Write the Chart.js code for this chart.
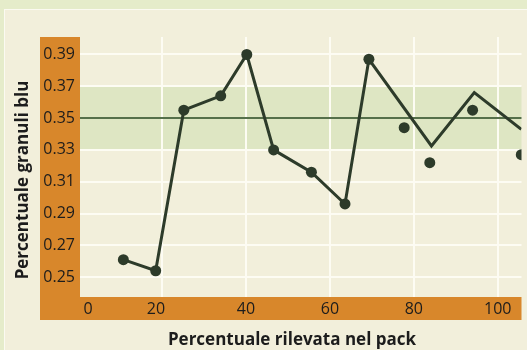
<!DOCTYPE html>
<html>
<head>
<meta charset="utf-8">
<script src="https://cdn.jsdelivr.net/npm/chart.js@4"></script>
<style>
  html, body { margin: 0; padding: 0; background: #e5ecca; }
  canvas { display: block; }
</style>
</head>
<body>
<canvas id="chart" width="527" height="350"></canvas>
<script>
// Campioni: percentuale rilevata nel pack (x) e percentuale di granuli blu (y)
const sampleX = [10.8, 18.5, 25.2, 34.0, 40.2, 46.6, 55.6, 63.6, 69.3, 77.7, 83.8, 94.0, 105.6];
const sampleY = [0.261, 0.254, 0.355, 0.364, 0.390, 0.330, 0.316, 0.296, 0.387, 0.344, 0.322, 0.355, 0.327];

// Linea di andamento
const trendX = [10.8, 18.5, 25.2, 34.0, 40.2, 46.6, 55.6, 63.6, 69.3, 84.2, 94.4, 105.6];
const trendY = [0.261, 0.254, 0.355, 0.364, 0.390, 0.330, 0.316, 0.296, 0.387, 0.3325, 0.366, 0.343];

// Valore nominale e fascia di tolleranza
const targetValue = 0.35;
const targetBand = [0.33, 0.37];

// Etichette e titoli degli assi
const yTicks = [0.25, 0.27, 0.29, 0.31, 0.33, 0.35, 0.37, 0.39];
const xTicks = [0, 20, 40, 60, 80, 100];
const xTitle = 'Percentuale rilevata nel pack';
const yTitle = 'Percentuale granuli blu';

// piccoli spostamenti orizzontali di alcune etichette dell'asse x
const xLabelNudge = { 0: 10, 20: -6 };

const INK = '#1c1c1c';
const ORANGE = '#d8872b';
const DOT = '#2d3b2a';
const TITLE_FONT = 'bold 17px "Open Sans"';

const backdrop = {
  id: 'backdrop',
  beforeDraw(chart) {
    const { ctx, chartArea: a, width, height } = chart;
    const y = chart.scales.y;
    ctx.save();
    ctx.fillStyle = '#e5ecca';
    ctx.fillRect(0, 0, width, height);
    ctx.fillStyle = '#fbfaf1';
    ctx.fillRect(4, 9, width - 4, height - 9);
    ctx.fillStyle = '#f2efdb';
    ctx.fillRect(5, 10, width - 5, height - 10);
    // fasce arancioni degli assi
    ctx.fillStyle = ORANGE;
    ctx.fillRect(40, a.top, a.left - 40, a.bottom + 23 - a.top);
    ctx.fillRect(40, a.bottom, a.right - 40, 23);
    // fascia di tolleranza
    const yTop = y.getPixelForValue(targetBand[1]);
    const yBot = y.getPixelForValue(targetBand[0]);
    ctx.fillStyle = '#dee6c3';
    ctx.fillRect(a.left, yTop, a.right - a.left, yBot - yTop);
    ctx.restore();
  },
  beforeDatasetsDraw(chart) {
    const { ctx, chartArea: a } = chart;
    const yp = chart.scales.y.getPixelForValue(targetValue);
    ctx.save();
    ctx.strokeStyle = '#55704a';
    ctx.lineWidth = 2;
    ctx.beginPath();
    ctx.moveTo(a.left, yp);
    ctx.lineTo(a.right, yp);
    ctx.stroke();
    ctx.restore();
  },
  afterDraw(chart) {
    const { ctx, chartArea: a } = chart;
    const x = chart.scales.x;
    ctx.save();
    ctx.fillStyle = INK;
    // etichette asse x
    ctx.font = '16px "Open Sans"';
    ctx.textAlign = 'center';
    ctx.textBaseline = 'middle';
    xTicks.forEach(v => {
      ctx.fillText(String(v), x.getPixelForValue(v) + (xLabelNudge[v] || 0), a.bottom + 12);
    });
    // titoli degli assi
    ctx.font = TITLE_FONT;
    ctx.textBaseline = 'alphabetic';
    ctx.fillText(xTitle, 292, 345);
    ctx.translate(28, 180);
    ctx.rotate(-Math.PI / 2);
    ctx.fillText(yTitle, 0, 0);
    ctx.restore();
  }
};

new Chart(document.getElementById('chart'), {
  type: 'scatter',
  data: {
    datasets: [
      {
        label: 'Andamento',
        data: trendX.map((x, i) => ({ x, y: trendY[i] })),
        showLine: true,
        borderColor: DOT,
        borderWidth: 3,
        pointRadius: 0,
        tension: 0,
        order: 2
      },
      {
        label: 'Campioni',
        data: sampleX.map((x, i) => ({ x, y: sampleY[i] })),
        showLine: false,
        backgroundColor: DOT,
        borderWidth: 0,
        pointRadius: 5.5,
        order: 1
      }
    ]
  },
  options: {
    responsive: false,
    animation: false,
    devicePixelRatio: 1,
    events: [],
    layout: { padding: { top: 37, left: 0, right: 0, bottom: 0 } },
    plugins: { legend: { display: false }, tooltip: { enabled: false } },
    scales: {
      x: {
        type: 'linear',
        min: 0.47,
        max: 105.65,
        afterBuildTicks: s => { s.ticks = xTicks.filter(v => v > 0).map(v => ({ value: v })); },
        afterFit: s => { s.height = 53; },
        border: { display: false },
        grid: { color: '#fdfcf3', lineWidth: 2, drawTicks: false },
        ticks: { color: 'rgba(0,0,0,0)', font: { family: 'Open Sans', size: 16 } },
        title: { display: false }
      },
      y: {
        type: 'linear',
        min: 0.2375,
        max: 0.401,
        afterBuildTicks: s => { s.ticks = yTicks.map(v => ({ value: v })); },
        afterFit: s => { s.width = 80; },
        border: { display: false },
        grid: { color: '#fdfcf3', lineWidth: 2, drawTicks: false },
        ticks: {
          color: INK,
          padding: 5,
          font: { family: 'Open Sans', size: 16 },
          callback: v => Number(v).toFixed(2)
        },
        title: { display: false }
      }
    }
  },
  plugins: [backdrop]
});
</script>
</body>
</html>
